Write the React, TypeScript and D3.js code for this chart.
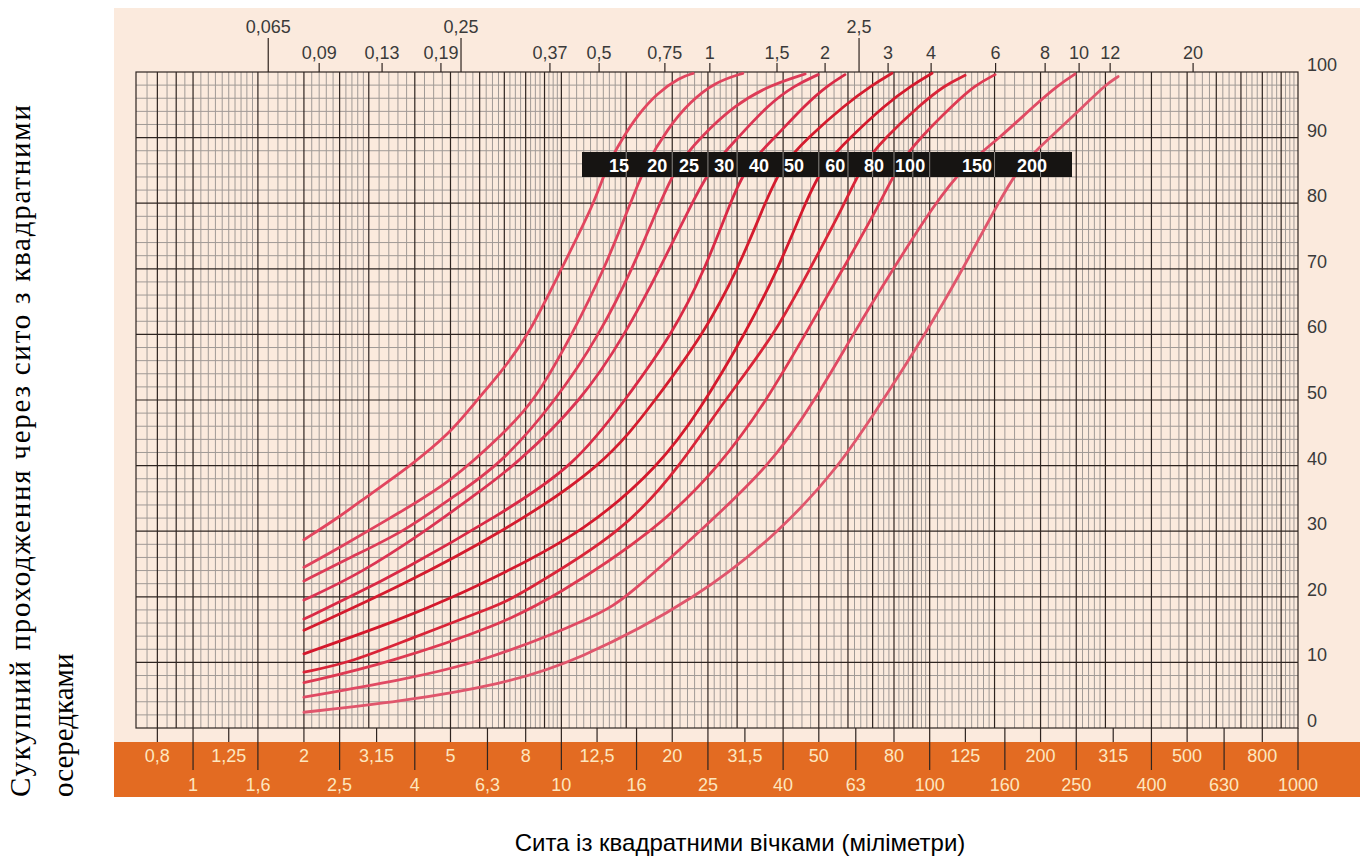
import React from 'react';
import * as d3 from 'd3';

// ---------- data ----------
const bottomUpperLabels = ['0,8', '1,25', '2', '3,15', '5', '8', '12,5', '20', '31,5', '50', '80', '125', '200', '315', '500', '800'];
const bottomUpperPosMM = [0.8, 1.25, 2, 3.15, 5, 8, 12.5, 20, 31.5, 50, 80, 125, 200, 315, 500, 800];
const bottomLowerLabels = ['1', '1,6', '2,5', '4', '6,3', '10', '16', '25', '40', '63', '100', '160', '250', '400', '630', '1000'];
const bottomLowerPosMM = [1, 1.5, 2.5, 4, 6.3, 10, 16, 25, 40, 63, 100, 160, 250, 400, 630, 1000];

const topTickLabels = ['0,065', '0,09', '0,13', '0,19', '0,25', '0,37', '0,5', '0,75', '1', '1,5', '2', '2,5', '3', '4', '6', '8', '10', '12', '20'];
const topTickMM = [1.6, 2.2, 3.26, 4.71, 5.34, 9.31, 12.66, 19.1, 25.3, 38.5, 52, 64.3, 77.1, 100.9, 151, 205.8, 254.5, 309, 519];
const topRaisedLabels = ['0,065', '0,25', '2,5'];

const percentTicks = [0, 10, 20, 30, 40, 50, 60, 70, 80, 90, 100];

const curveLabels = ['15', '20', '25', '30', '40', '50', '60', '80', '100', '150', '200'];

const curve15 = [[2, 28.7], [2.5, 32.2], [3, 35.5], [3.9, 40], [5, 45], [5.8, 49.5], [6.8, 54], [8.1, 59.6], [10, 70], [12.3, 80], [13.3, 85.8], [14.7, 90], [16, 93.2], [18.2, 96.8], [21, 99.2], [22.8, 99.8]];
const curve20 = [[2, 24.5], [2.5, 27.5], [3.65, 32.9], [5, 37.5], [7, 45], [8.5, 50], [10.7, 60], [13.1, 70], [15.4, 80], [16.9, 85.8], [19.5, 91.5], [22.4, 95.5], [26.2, 98.5], [31.1, 99.8]];
const curve25 = [[2, 22.4], [2.67, 26], [3.76, 30], [5, 35], [6.8, 40], [9.7, 50], [12.7, 60], [15.6, 70], [18.5, 80], [20.6, 85.8], [23.8, 90], [29.6, 95], [36.9, 98], [45.9, 99.7]];
const curve30 = [[2, 19.5], [2.84, 23.5], [4.27, 30], [5.65, 35], [7.5, 40], [11.4, 50], [14.9, 60], [18.5, 70], [22.6, 80], [25.7, 85.8], [30.2, 90], [36.4, 95], [43.1, 98], [49.8, 99.6]];
const curve40 = [[2, 16.6], [2.67, 20], [3.65, 23.8], [6.8, 32.5], [10.9, 40], [14.9, 50], [20, 60], [24.6, 70], [28.7, 80], [31.9, 85.8], [38, 90], [45.9, 95], [53, 98], [58.9, 99.6]];
const curve50 = [[2, 14.9], [3.65, 21.6], [7, 30], [13.1, 40], [18, 50], [24.3, 60], [30.2, 70], [35.7, 80], [39.7, 85.8], [46.7, 90], [58.9, 95], [69.8, 98], [79, 99.8]];
const curve60 = [[2, 11.3], [3.65, 16.5], [5.1, 20], [6.8, 23.3], [11.6, 30], [18.5, 40], [23.8, 48.5], [31.5, 60], [38.8, 70], [45.9, 80], [51.4, 85.8], [60.8, 90], [75.7, 95], [89.6, 98], [101.5, 99.8]];
const curve80 = [[2, 8.5], [2.67, 10], [3.65, 13], [6.8, 18.8], [7.5, 20], [14.9, 30], [21, 40], [27.8, 50], [38, 60], [47.3, 70], [58.9, 80], [65.5, 85.8], [75.7, 90], [94.2, 95], [110, 98], [124.8, 99.5]];
const curve100 = [[2, 6.9], [3.43, 10], [6.8, 15.7], [9.6, 20], [18, 30], [27, 40], [36.2, 50], [45.9, 60], [58.2, 70], [73.4, 80], [82.1, 85.8], [94.2, 90], [115.8, 95], [132.8, 98], [150.5, 99.6]];
const curve150 = [[2, 4.7], [3.65, 7.3], [6.1, 10], [12.7, 17.2], [15.1, 20], [23.8, 30], [36.9, 40], [48.9, 50], [61.9, 60], [79.6, 70], [103.4, 80], [124.8, 85.8], [155.3, 90], [193.3, 95], [223.2, 98], [248.2, 99.7]];
const curve200 = [[2, 2.4], [3.65, 4], [6.8, 6.6], [10.9, 10], [23.8, 20], [39.3, 30], [57.1, 40], [74.7, 50], [97.2, 60], [123.2, 70], [153.4, 80], [176, 85.8], [212.3, 90], [264.2, 95], [299.4, 98], [324.8, 99.3]];

const curveSeries = [curve15, curve20, curve25, curve30, curve40, curve50, curve60, curve80, curve100, curve150, curve200];
const curveColors = ['#e2465f', '#e0435d', '#dd3c57', '#db3553', '#d92a45', '#d41c2e', '#d4192c', '#d92538', '#de3a52', '#e04a63', '#e0566c'];

const bandLevel = 85.8;

const yTitleLine1 = 'Сукупний проходження через сито з квадратними';
const yTitleLine2 = 'осередками';
const xTitle = 'Сита із квадратними вічками (міліметри)';

export default function App() {
  const x = d3.scaleLog().domain([0.7, 1000]).range([136, 1298]);
  const y = d3.scaleLinear().domain([0, 100]).range([728, 72]);

  const x0 = x(0.7), x1 = x(1000), yTop = y(100), yBot = y(0);

  // grid values
  const majorX: number[] = [0.8, 0.9];
  [1, 10, 100].forEach(b => [1, 1.5, 2, 2.5, 3, 4, 5, 6, 7, 8, 9].forEach(m => majorX.push(m * b)));
  const segs = [[1, 1.5, 0.05], [1.5, 3, 0.1], [3, 4, 0.2], [4, 10, 0.25]];
  const isMajor = (val: number) => majorX.some(mv => Math.abs(mv - val) / mv < 1e-6);
  const minorX: number[] = [0.75, 0.85, 0.95];
  [1, 10, 100].forEach(b => segs.forEach(([a, e, s]) => {
    for (let k = 1; a + k * s < e - 1e-9; k++) {
      const val = (a + k * s) * b;
      if (val < 1000 - 1e-9 && !isMajor(val)) minorX.push(val);
    }
  }));
  const minorY = d3.range(2, 100, 2).filter(v => v % 10 !== 0);
  const majorY = d3.range(10, 100, 10);

  const line = d3.line<number[]>().x(d => x(d[0])).y(d => y(d[1])).curve(d3.curveBasis);

  // crossing of each curve with the band level
  const crossings = curveSeries.map(s => {
    for (let i = 1; i < s.length; i++) {
      if (s[i][1] >= bandLevel && s[i - 1][1] <= bandLevel) {
        const t = (bandLevel - s[i - 1][1]) / (s[i][1] - s[i - 1][1]);
        const lx = Math.log(s[i - 1][0]) + t * (Math.log(s[i][0]) - Math.log(s[i - 1][0]));
        return x(Math.exp(lx));
      }
    }
    return x(s[s.length - 1][0]);
  });

  const bandY0 = 152, bandY1 = 177;
  const bandX0 = 582, bandX1 = 1072;
  const sans = 'Liberation Sans, Arial, Helvetica, sans-serif';
  const serif = 'Liberation Serif, Times New Roman, serif';

  return (
    <svg width={1364} height={857} style={{ position: 'absolute', left: 0, top: 0, background: '#fff' }}>
      {/* panels */}
      <rect x={114} y={8} width={1246} height={734} fill="#fbeadd" />
      <rect x={114} y={742} width={1246} height={55} fill="#e36b22" />

      {/* minor grid */}
      <g stroke="#a09a96" strokeWidth={1}>
        {minorX.map((v, i) => <line key={'mx' + i} x1={x(v)} x2={x(v)} y1={yTop} y2={yBot} />)}
        {minorY.map((v, i) => <line key={'my' + i} x1={x0} x2={x1} y1={y(v)} y2={y(v)} />)}
      </g>
      {/* major grid */}
      <g stroke="#2e2420" strokeWidth={1.2}>
        {majorX.map((v, i) => <line key={'Mx' + i} x1={x(v)} x2={x(v)} y1={yTop} y2={yBot} />)}
        {majorY.map((v, i) => <line key={'My' + i} x1={x0} x2={x1} y1={y(v)} y2={y(v)} />)}
        <rect x={x0} y={yTop} width={x1 - x0} height={yBot - yTop} fill="none" />
      </g>

      {/* curves */}
      <g fill="none" strokeWidth={2.8} strokeLinecap="round">
        {curveSeries.map((s, i) => <path key={'c' + i} d={line(s) || ''} stroke={curveColors[i]} />)}
      </g>

      {/* label band */}
      <rect x={bandX0} y={bandY0} width={bandX1 - bandX0} height={bandY1 - bandY0} fill="#161412" />
      <g stroke="#8c8884" strokeWidth={1}>
        {majorX.filter(v => x(v) > bandX0 + 2 && x(v) < bandX1 - 2).map((v, i) => (
          <line key={'bl' + i} x1={x(v)} x2={x(v)} y1={bandY0} y2={bandY1} />
        ))}
      </g>
      <g fontFamily={sans} fontWeight="bold" fontSize={18} fill="#ffffff" textAnchor="middle">
        {curveLabels.map((l, i) => <text key={'bt' + i} x={crossings[i] + 12} y={bandY1 - 5}>{l}</text>)}
      </g>

      {/* top axis */}
      <g stroke="#2e2420" strokeWidth={1.2}>
        {topTickMM.map((v, i) => (
          <line key={'tt' + i} x1={x(v)} x2={x(v)} y1={topRaisedLabels.includes(topTickLabels[i]) ? 38 : 63} y2={yTop} />
        ))}
      </g>
      <g fontFamily={sans} fontSize={18} fill="#3a3a3a" textAnchor="middle">
        {topTickMM.map((v, i) => (
          <text key={'tl' + i} x={x(v)} y={topRaisedLabels.includes(topTickLabels[i]) ? 33 : 59}>{topTickLabels[i]}</text>
        ))}
      </g>

      {/* right axis labels */}
      <g fontFamily={sans} fontSize={18} fill="#3a3a3a">
        {percentTicks.map(v => <text key={'yl' + v} x={1307} y={y(v) - 1}>{v}</text>)}
      </g>

      {/* bottom axis */}
      <g stroke="#2e2420" strokeWidth={1.2}>
        {bottomUpperPosMM.map((v, i) => <line key={'bu' + i} x1={x(v)} x2={x(v)} y1={yBot} y2={742} />)}
        {bottomLowerPosMM.map((v, i) => <line key={'bd' + i} x1={x(v)} x2={x(v)} y1={yBot} y2={770} />)}
      </g>
      <g fontFamily={sans} fontSize={18} fill="#fde6bf" textAnchor="middle">
        {bottomUpperPosMM.map((v, i) => <text key={'bul' + i} x={x(v)} y={762}>{bottomUpperLabels[i]}</text>)}
        {bottomLowerPosMM.map((v, i) => <text key={'bdl' + i} x={x(v)} y={791}>{bottomLowerLabels[i]}</text>)}
      </g>

      {/* titles */}
      <g fontFamily={serif} fontSize={29} fill="#000">
        <text transform="rotate(-90)" x={-797} y={30} textLength={692} lengthAdjust="spacing">{yTitleLine1}</text>
        <text transform="rotate(-90)" x={-797} y={73}>{yTitleLine2}</text>
      </g>
      <text x={740} y={851} fontFamily={sans} fontSize={24} textAnchor="middle" fill="#000">{xTitle}</text>
    </svg>
  );
}
